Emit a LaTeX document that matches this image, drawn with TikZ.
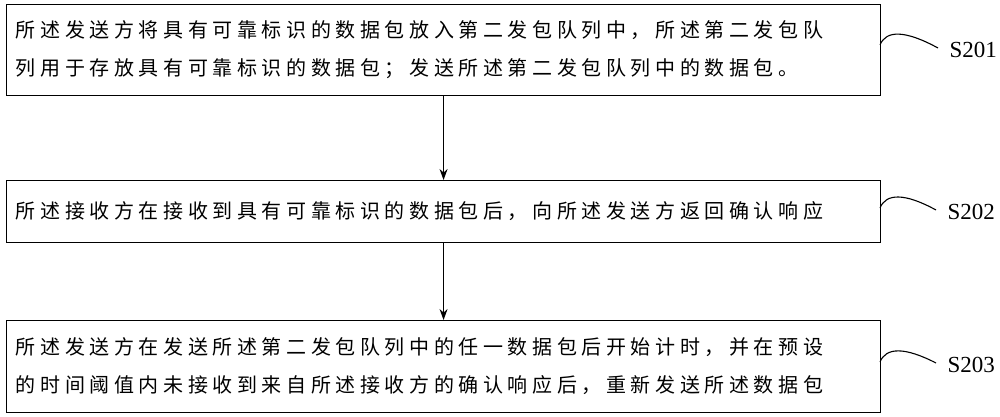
\documentclass[tikz,border=0pt]{standalone}
\usepackage{fontspec}
\setmainfont{Liberation Serif}
\newfontfamily\cjk[LetterSpace=23]{Noto Sans CJK SC}
\usetikzlibrary{arrows.meta}
\begin{document}
\begin{tikzpicture}[x=1pt,y=-1pt,line width=1.1pt,
  stepbox/.style={draw,minimum width=874pt,anchor=north west,inner sep=0pt},
  txt/.style={anchor=west,font=\cjk\fontsize{20}{38}\selectfont,align=left},
  lab/.style={anchor=west,font=\fontsize{23}{24}\selectfont,inner sep=1pt}]
\useasboundingbox (0,0) rectangle (1000,416);
\node[stepbox,minimum height=91pt] (b1) at (6,4) {};
\node[stepbox,minimum height=62pt] (b2) at (6,180) {};
\node[stepbox,minimum height=92pt] (b3) at (6,320) {};
\node[txt] (t1) at (12,49.5) {所述发送方将具有可靠标识的数据包放入第二发包队列中，所述第二发包队\\列用于存放具有可靠标识的数据包；发送所述第二发包队列中的数据包。};
\node[txt] (t2) at (12,211) {所述接收方在接收到具有可靠标识的数据包后，向所述发送方返回确认响应};
\node[txt] (t3) at (12,366) {所述发送方在发送所述第二发包队列中的任一数据包后开始计时，并在预设\\的时间阈值内未接收到来自所述接收方的确认响应后，重新发送所述数据包};
\draw[-{Stealth[length=11pt,width=8pt]}] (b1.south) -- (b2.north);
\draw[-{Stealth[length=11pt,width=8pt]}] (b2.south) -- (b3.north);
\node[lab] (s1) at (948,50) {S201};
\node[lab] (s2) at (946,212) {S202};
\node[lab] (s3) at (946,365) {S203};
\coordinate (c1) at (880,45);
\coordinate (c2) at (880,208);
\coordinate (c3) at (880,362);
\draw (c1) .. controls (886,30) and (905,30) .. (938,48);
\draw (c2) .. controls (886,193) and (905,193) .. (936,210);
\draw (c3) .. controls (886,347) and (905,347) .. (936,363);
\end{tikzpicture}
\end{document}
